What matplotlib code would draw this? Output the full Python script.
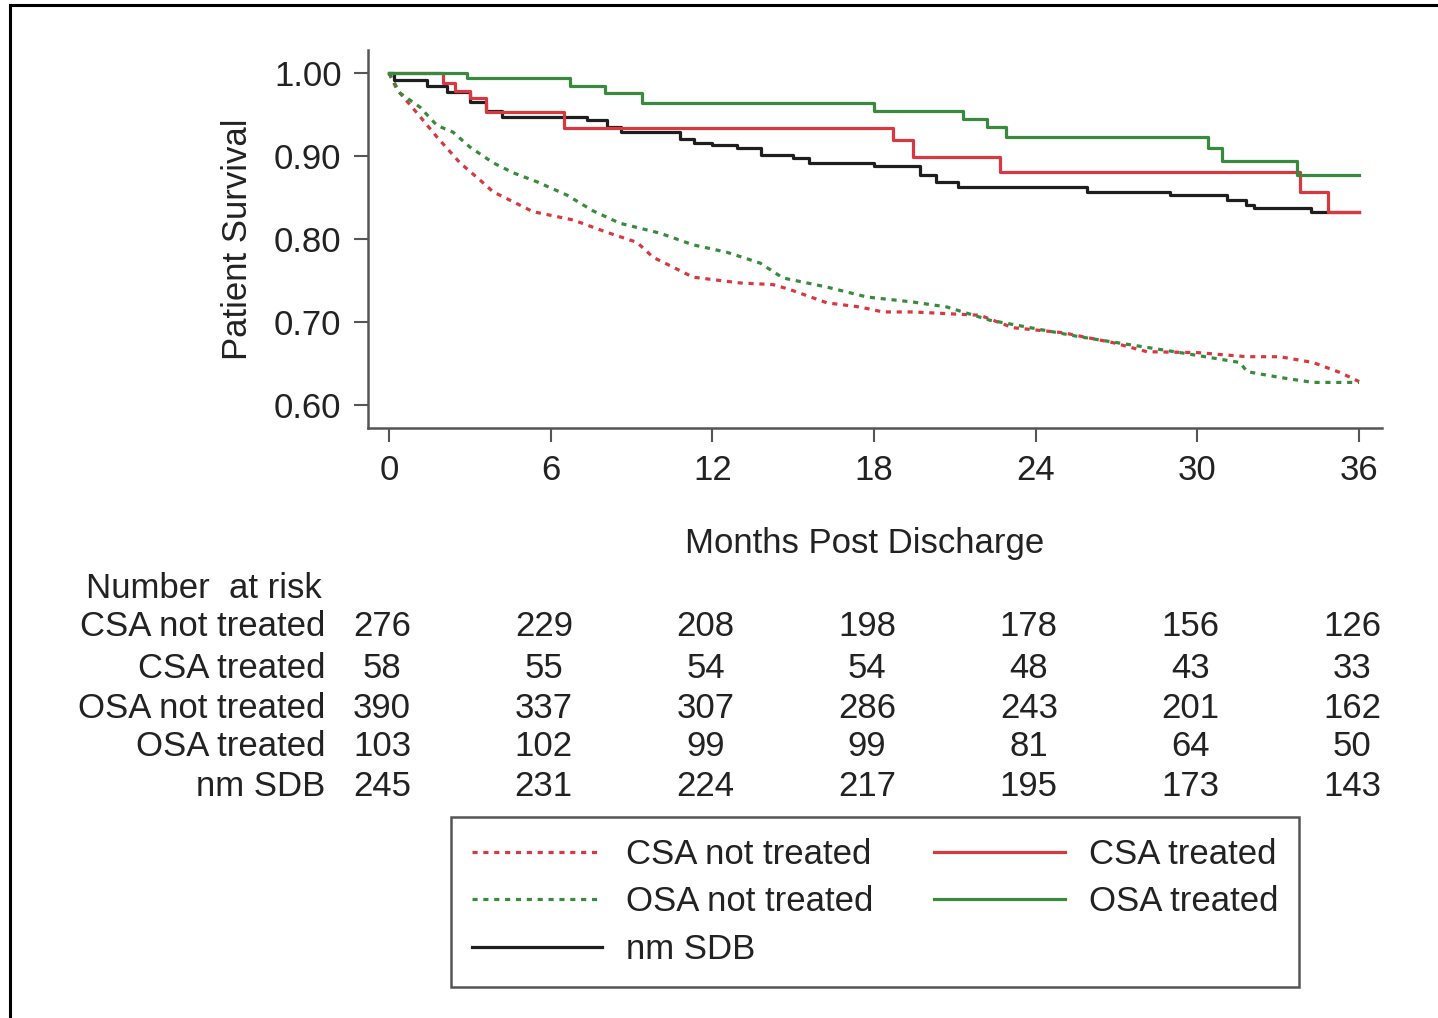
import matplotlib
matplotlib.use('Agg')
import matplotlib.pyplot as plt
from matplotlib.lines import Line2D
from matplotlib.transforms import blended_transform_factory, offset_copy

plt.rcParams['font.family'] = ['Liberation Sans', 'DejaVu Sans']

# survival curves: (months, survival)
csa_nt_months = [0, 0.3, 1.04, 1.78, 2.63, 3.38, 3.86, 5.34, 6.83, 8.09, 9.2, 9.8, 10.54,
                 11.28, 13.02, 14.25, 14.88, 16.25, 17.47, 18.33, 19.44, 21.93, 23.15,
                 25.0, 26.86, 28.13, 29.98, 31.84, 33.06, 34.29, 35.29, 36.0]
csa_nt_surv = [1.0, 0.980, 0.952, 0.923, 0.892, 0.871, 0.857, 0.833, 0.823, 0.808, 0.796,
               0.778, 0.766, 0.754, 0.747, 0.745, 0.739, 0.723, 0.718, 0.712, 0.712, 0.708,
               0.693, 0.687, 0.675, 0.664, 0.663, 0.658, 0.658, 0.651, 0.639, 0.628]

osa_nt_months = [0, 0.41, 1.15, 1.78, 2.37, 3.0, 3.86, 4.6, 5.49, 6.6, 7.57, 8.57, 10.06,
                 11.28, 12.54, 13.77, 14.62, 16.25, 17.74, 19.44, 20.7, 22.3, 25.64,
                 29.35, 31.58, 31.84, 33.06, 34.29, 36.0]
osa_nt_surv = [1.0, 0.976, 0.959, 0.937, 0.929, 0.911, 0.892, 0.880, 0.869, 0.853, 0.834,
               0.819, 0.807, 0.793, 0.784, 0.771, 0.753, 0.742, 0.730, 0.724, 0.718, 0.702,
               0.682, 0.663, 0.651, 0.640, 0.633, 0.627, 0.627]

csa_t_months = [0, 2.0, 2.45, 3.0, 3.6, 6.5, 18.7, 19.44, 22.67, 33.8, 34.84, 36.0]
csa_t_surv = [1.0, 0.988, 0.978, 0.970, 0.953, 0.934, 0.919, 0.899, 0.881, 0.857, 0.833, 0.833]

osa_t_months = [0, 2.9, 6.7, 8.0, 9.4, 18.0, 21.3, 22.2, 22.9, 30.4, 30.9, 33.7, 36.0]
osa_t_surv = [1.0, 0.994, 0.984, 0.976, 0.964, 0.955, 0.945, 0.935, 0.923, 0.910, 0.894,
              0.877, 0.877]

nm_months = [0, 0.2, 1.4, 2.15, 3.0, 3.6, 4.2, 7.35, 8.1, 8.6, 10.8, 11.3, 12.0, 12.9, 13.8,
             15.0, 15.6, 18.0, 19.7, 20.3, 21.1, 25.9, 29.0, 31.1, 31.8, 32.1, 34.2, 36.0]
nm_surv = [1.0, 0.992, 0.985, 0.977, 0.965, 0.955, 0.947, 0.944, 0.935, 0.929, 0.921, 0.916,
           0.913, 0.910, 0.901, 0.898, 0.892, 0.888, 0.877, 0.869, 0.863, 0.857, 0.853,
           0.847, 0.841, 0.837, 0.833, 0.833]

risk_months = [0, 6, 12, 18, 24, 30, 36]
risk_groups = ['CSA not treated', 'CSA treated', 'OSA not treated', 'OSA treated', 'nm SDB']
risk_csa_nt = [276, 229, 208, 198, 178, 156, 126]
risk_csa_t = [58, 55, 54, 54, 48, 43, 33]
risk_osa_nt = [390, 337, 307, 286, 243, 201, 162]
risk_osa_t = [103, 102, 99, 99, 81, 64, 50]
risk_nm = [245, 231, 224, 217, 195, 173, 143]

RED = '#d8383f'
GREEN = '#3a8a3e'
BLACK = '#1e1e1e'
TXT = '#222222'
FS = 25

fig = plt.figure(figsize=(14.38, 10.18), dpi=100)
ax = fig.add_axes([368/1438, 1-428/1018, (1382-368)/1438, (428-50)/1018])

dots = (0, (1.6, 1.8))
l1, = ax.plot(csa_nt_months, csa_nt_surv, color=RED, lw=2.3, ls=dots, label='CSA not treated')
l3, = ax.plot(osa_nt_months, osa_nt_surv, color=GREEN, lw=2.3, ls=dots, label='OSA not treated')
l5, = ax.plot(nm_months, nm_surv, color=BLACK, lw=2.3, drawstyle='steps-post', label='nm SDB')
l2, = ax.plot(csa_t_months, csa_t_surv, color=RED, lw=2.3, drawstyle='steps-post', label='CSA treated')
l4, = ax.plot(osa_t_months, osa_t_surv, color=GREEN, lw=2.3, drawstyle='steps-post', label='OSA treated')

ax.set_xlim(-0.78, 36.85)
ax.set_ylim(0.572, 1.028)
ax.set_xticks(risk_months)
ax.set_yticks([0.6, 0.7, 0.8, 0.9, 1.0])
ax.set_yticklabels(['0.60', '0.70', '0.80', '0.90', '1.00'])
ax.tick_params(labelsize=FS, length=10, width=1.5, color='#555555', labelcolor=TXT, pad=9)
for s in ['top', 'right']:
    ax.spines[s].set_visible(False)
for s in ['left', 'bottom']:
    ax.spines[s].set_color('#555555')
    ax.spines[s].set_linewidth(1.8)

ax.set_ylabel('Patient Survival', fontsize=FS, color=TXT)
ax.yaxis.set_label_coords(-0.112, 0.5)
ax.set_xlabel('Months Post Discharge', fontsize=FS, color=TXT)
ax.xaxis.set_label_coords(0.49, -0.262)

# number at risk table
fig.text(322/1438, 1-588/1018, 'Number  at risk', fontsize=FS, color=TXT, ha='right', va='center')
row_y = [627, 668, 708, 747, 787]
rows = [risk_csa_nt, risk_csa_t, risk_osa_nt, risk_osa_t, risk_nm]
trans = offset_copy(blended_transform_factory(ax.transData, fig.transFigure), fig=fig, x=-5, units='points')
for name, vals, py in zip(risk_groups, rows, row_y):
    y = 1 - py/1018
    fig.text(325/1438, y, name, fontsize=FS, color=TXT, ha='right', va='center')
    for m, v in zip(risk_months, vals):
        ax.text(m, y, str(v), transform=trans, fontsize=FS, color=TXT, ha='center', va='center')

leg = fig.legend(handles=[l1, l3, l5, l2, l4], ncol=2, loc='upper left',
                 bbox_to_anchor=(451/1438, 1-817/1018), bbox_transform=fig.transFigure,
                 borderaxespad=0, fontsize=FS, handlelength=3.75, handletextpad=0.7,
                 columnspacing=1.75, labelspacing=0.42, borderpad=0.6, fancybox=False,
                 framealpha=1, edgecolor='#555555')
leg.get_frame().set_linewidth(1.8)
for t in leg.get_texts():
    t.set_color(TXT)

# outer frame of the pasted picture
fig.add_artist(Line2D([10/1438, 10/1438], [0, 1-5/1018], transform=fig.transFigure, color='black', lw=2.2))
fig.add_artist(Line2D([10/1438, 1], [1-5/1018, 1-5/1018], transform=fig.transFigure, color='black', lw=2.2))

fig.savefig('out.png', dpi=100)
